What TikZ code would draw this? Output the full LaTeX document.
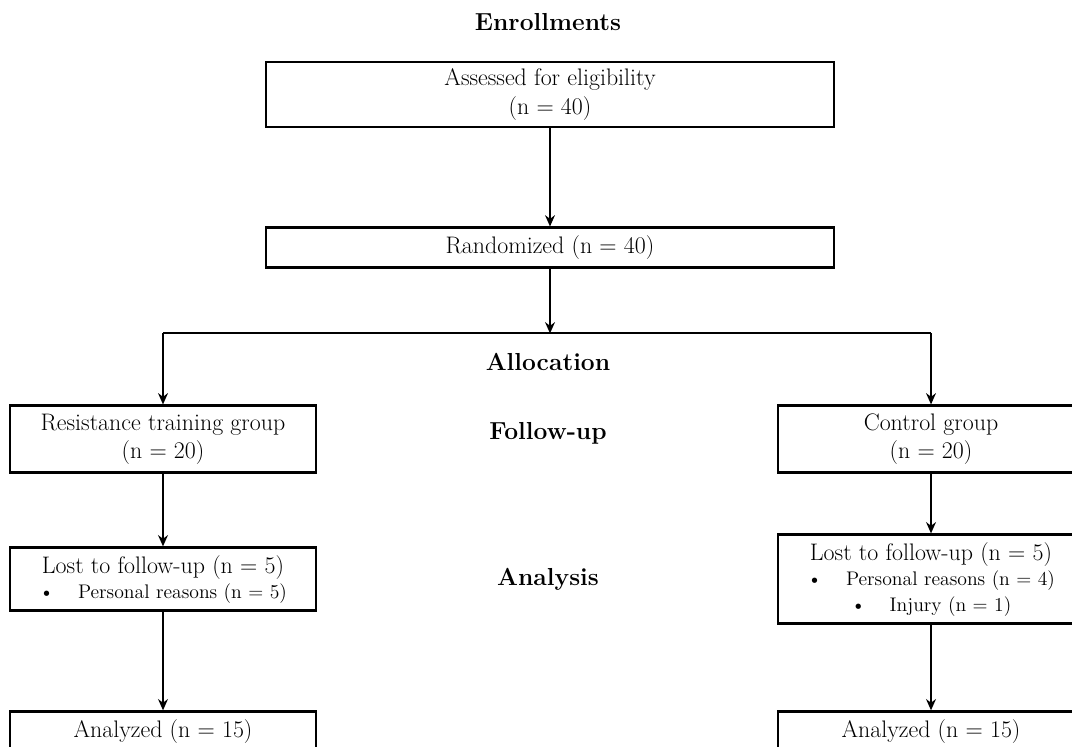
\documentclass[tikz,border=0pt]{standalone}
\usetikzlibrary{positioning,arrows.meta,calc}
\tikzset{
    box/.style={draw, line width=2.1pt, align=center, inner sep=2pt, font=\fontsize{17}{20}\selectfont},
    head/.style={font=\bfseries\fontsize{17.5}{20}\selectfont},
    arr/.style={line width=1.4pt, -{Stealth[length=8pt,width=7pt]}},
}
\newcommand{\smalltxt}{\fontsize{14}{17}\selectfont}

\begin{document}
\begin{tikzpicture}
    \useasboundingbox (0,0) rectangle (26.8,-18.65);
    \clip (0,0) rectangle (26.8,-18.65);
    \node [box, minimum width=14.2cm, minimum height=1.625cm] (a) at (13.75,-2.3625) {Assessed for eligibility\\(n = 40)};
    \node [head] (t1) at ($(a.north)+(-0.05,0.95)$) {Enrollments};
    \node [box, minimum width=14.2cm, minimum height=1cm, below=2.45cm of a] (r) {Randomized (n = 40)};
    \coordinate [below=1.6cm of r] (s);
    \coordinate [left=9.675cm of s] (s1);
    \coordinate [right=9.525cm of s] (s2);
    \node [head] (t2) at ($(s)+(-0.05,-0.725)$) {Allocation};
    \node [box, minimum width=7.65cm, minimum height=1.675cm, below=1.775cm of s1] (g1) {Resistance training group\\(n = 20)};
    \node [box, minimum width=7.65cm, minimum height=1.675cm, below=1.775cm of s2] (g2) {Control group\\(n = 20)};
    \node [head] (t3) at ($(g1 -| t2)+(0,0.14)$) {Follow-up};
    \node [box, minimum width=7.65cm, minimum height=1.575cm, below=1.8cm of g1] (l1) {Lost to follow-up (n = 5)\\[-2pt]
        \smalltxt\textbullet\hspace{0.6cm}Personal reasons (n = 5)};
    \node [box, minimum width=7.65cm, minimum height=2.225cm, below=1.475cm of g2] (l2) {Lost to follow-up (n = 5)\\[-2pt]
        \smalltxt\textbullet\hspace{0.6cm}Personal reasons (n = 4)\\[-2pt]
        \smalltxt\textbullet\hspace{0.6cm}Injury (n = 1)};
    \node [head] (t4) at (l1 -| t2) {Analysis};
    \node [box, minimum width=7.65cm, minimum height=1cm, below=2.45cm of l1] (n1) {Analyzed (n = 15)};
    \node [box, minimum width=7.65cm, minimum height=1cm, below=2.125cm of l2] (n2) {Analyzed (n = 15)};
    \draw [arr] (a) -- (r);
    \draw [arr] (r) -- (s);
    \draw [line width=1.4pt] (s1) -- (s2);
    \draw [arr] (s1) -- (g1);
    \draw [arr] (s2) -- (g2);
    \draw [arr] (g1) -- (l1);
    \draw [arr] (g2) -- (l2);
    \draw [arr] (l1) -- (n1);
    \draw [arr] (l2) -- (n2);
\end{tikzpicture}
\end{document}
